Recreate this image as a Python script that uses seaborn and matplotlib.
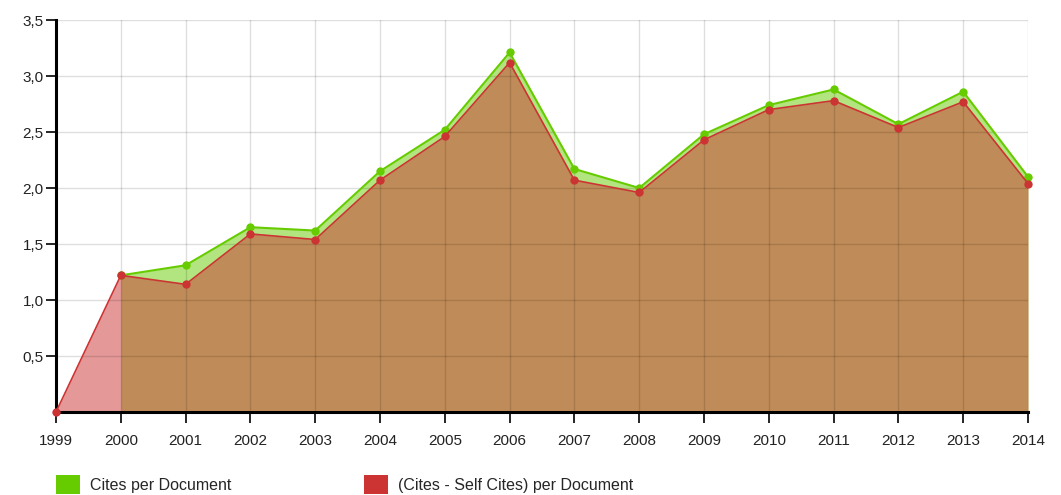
import numpy as np
import pandas as pd
import matplotlib
matplotlib.use("Agg")
import matplotlib.pyplot as plt
import seaborn as sns
from matplotlib.patches import Patch
from matplotlib.ticker import FuncFormatter

years = list(range(1999, 2015))
cites_per_doc = [np.nan, 1.22, 1.31, 1.65, 1.62, 2.15, 2.52, 3.21, 2.17, 2.00,
                 2.48, 2.74, 2.88, 2.57, 2.86, 2.10]
cites_minus_self = [0.0, 1.22, 1.14, 1.59, 1.54, 2.07, 2.46, 3.12, 2.07, 1.96,
                    2.43, 2.70, 2.78, 2.54, 2.77, 2.04]
series_names = ["Cites per Document", "(Cites - Self Cites) per Document"]
y_ticks = [0.5, 1.0, 1.5, 2.0, 2.5, 3.0, 3.5]

green = "#66cc00"
red = "#cc3333"

sns.set_style("white")
plt.rcParams['font.family'] = ['Liberation Sans', 'DejaVu Sans']

df = pd.DataFrame({"year": years, "green": cites_per_doc, "red": cites_minus_self})

fig = plt.figure(figsize=(10.61, 4.95), dpi=100)
ax = fig.add_axes([56/1061, 83/495, (1028-56)/1061, (412-20)/495])

g = df.dropna(subset=["green"])
ax.fill_between(g["year"], 0, g["green"], color=green, alpha=0.5, lw=0, zorder=1)
ax.fill_between(df["year"], 0, df["red"], color=red, alpha=0.5, lw=0, zorder=2)

sns.lineplot(data=g, x="year", y="green", ax=ax, color=green, lw=1.5,
             marker="o", markersize=6, markeredgewidth=0, zorder=7, clip_on=False)
sns.lineplot(data=df, x="year", y="red", ax=ax, color=red, lw=1.2,
             marker="o", markersize=6, markeredgewidth=0, zorder=8, clip_on=False)

ax.set_xlim(1999, 2014)
ax.set_ylim(0, 3.5)
ax.set_xticks(years)
ax.set_xticklabels([str(y) for y in years])
ax.set_yticks(y_ticks)
ax.yaxis.set_major_formatter(FuncFormatter(lambda v, p: f"{v:.1f}".replace(".", ",")))
ax.set_xlabel("")
ax.set_ylabel("")

ax.grid(True, color="black", alpha=0.13, lw=1, zorder=3)
ax.set_axisbelow(False)
for l in ax.get_xgridlines() + ax.get_ygridlines():
    l.set_zorder(3)

for s in ["top", "right"]:
    ax.spines[s].set_visible(False)
for s in ["left", "bottom"]:
    ax.spines[s].set_color("black")
    ax.spines[s].set_linewidth(2.2)
    ax.spines[s].set_zorder(6)

ax.tick_params(axis="x", direction="out", length=8, width=1.2, color="black",
               labelsize=11, labelcolor="#222222", bottom=True, pad=8)
ax.tick_params(axis="y", direction="out", length=7, width=1.2, color="black",
               labelsize=11, labelcolor="#222222", left=True, pad=2)

handles = [Patch(facecolor=green, edgecolor="none"), Patch(facecolor=red, edgecolor="none")]
fig.legend(handles, series_names, loc="lower left", bbox_to_anchor=(56/1061, 1/495),
           ncol=2, frameon=False, fontsize=11.5, handlelength=1.5, handleheight=1.5,
           columnspacing=8.3, handletextpad=0.62, borderpad=0, borderaxespad=0)

fig.savefig("out.png", dpi=100)
